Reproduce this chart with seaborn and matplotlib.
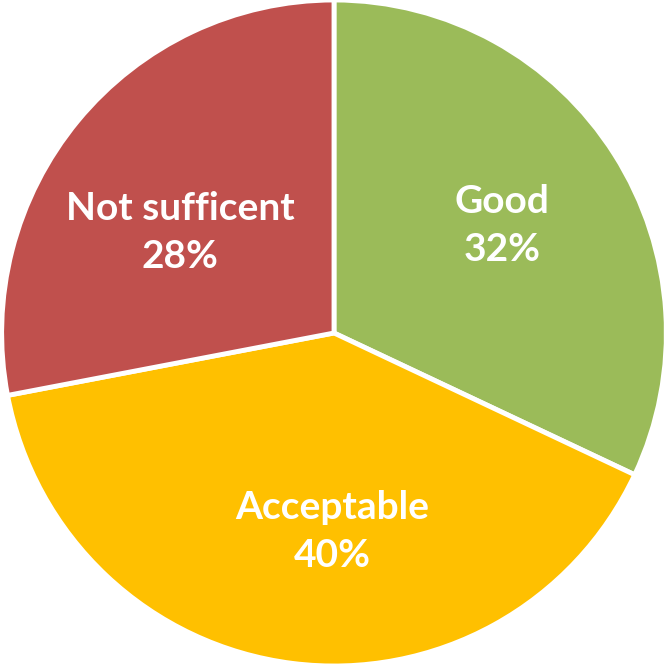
import seaborn as sns
import matplotlib
matplotlib.use("Agg")
import matplotlib.pyplot as plt

categories = ["Good", "Acceptable", "Not sufficent"]
shares = [32, 40, 28]
colors = ["#9BBB59", "#FFC000", "#C0504D"]

sns.set_theme(style="white")
plt.rcParams['font.family'] = ['Lato', 'DejaVu Sans']

fig = plt.figure(figsize=(6.68, 6.66), dpi=100)
ax = fig.add_axes([0, 0, 1, 1])

wedges, texts = ax.pie(
    shares,
    colors=colors,
    startangle=90,
    counterclock=False,
    radius=1.0,
    wedgeprops=dict(edgecolor="white", linewidth=3.5),
    labels=[f"{c}\n{v}%" for c, v in zip(categories, shares)],
    labeldistance=0.6,
    textprops=dict(color="white", fontsize=28, fontweight="bold",
                   ha="center", va="center", linespacing=1.45),
)

# nudge labels the way the original placed them (best fit)
label_shift = [(0.0, 0.0), (0.07, 0.0), (0.0, -0.08)]
for t, (dx, dy) in zip(texts, label_shift):
    x, y = t.get_position()
    t.set_position((x + dx, y + dy))

ax.set_xlim(-1.005, 1.005)
ax.set_ylim(-1.0, 1.0)
ax.set_aspect("auto")
ax.axis("off")

fig.savefig("out.png", dpi=100)
